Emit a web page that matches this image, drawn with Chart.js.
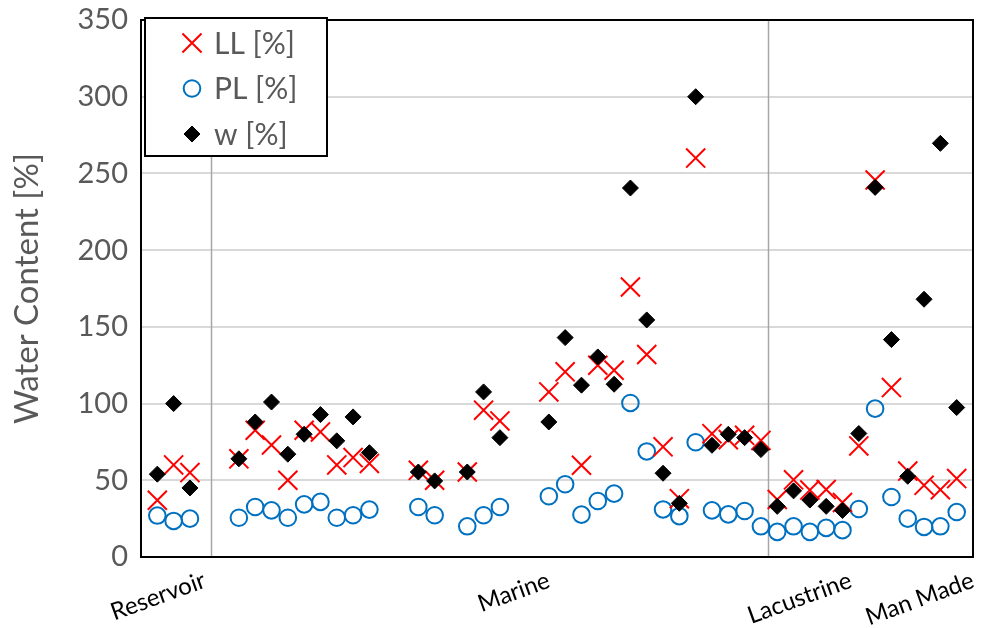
<!DOCTYPE html>
<html>
<head>
<meta charset="utf-8">
<script src="https://cdn.jsdelivr.net/npm/chart.js@4.4.1/dist/chart.umd.min.js"></script>
<style>
  html, body { margin: 0; padding: 0; background: #ffffff; }
  #wrap { width: 983px; height: 628px; }
</style>
</head>
<body>
<div id="wrap"><canvas id="c" width="983" height="628"></canvas></div>
<script>
// Sample positions along the horizontal axis (empty slots have null values)
const sampleNo = [
  0, 1, 2, 3, 4, 5, 6, 7, 8, 9,
  10, 11, 12, 13, 14, 15, 16, 17, 18, 19,
  20, 21, 22, 23, 24, 25, 26, 27, 28, 29,
  30, 31, 32, 33, 34, 35, 36, 37, 38, 39,
  40, 41, 42, 43, 44, 45, 46, 47, 48, 49
];

// Liquid limit LL [%]
const liquidLimit = [
  37, 60, 55, null, null, 64, 82.6, 73, 50, 82.6,
  81.5, 60, 64.8, 61, null, null, 56.5, 50, null, 55.4,
  95.7, 88.7, null, null, 107.6, 120.7, 59.8, 125, 121.7, 176,
  132, 71.8, 38, 260, 80.4, 76.5, 79.3, 76, 37.5, 50.3,
  43.6, 44, 35.5, 72.4, 245.7, 110.4, 56, 46.7, 43.9, 51.1
];

// Plastic limit PL [%]
const plasticLimit = [
  27, 23.5, 25, null, null, 25.6, 32.6, 30.4, 25.6, 34.3,
  35.9, 25.6, 27.2, 30.9, null, null, 32.6, 27.2, null, 20,
  27.2, 32.6, null, null, 39.6, 47.4, 27.6, 36.5, 41.3, 100.4,
  68.8, 31, 26.6, 74.8, 30.4, 27.8, 30, 20, 16.4, 20,
  16.4, 19, 17.5, 31.3, 96.7, 39.1, 25, 19.6, 20, 29.3
];

// Natural water content w [%]
const waterContent = [
  54, 100, 45, null, null, 64, 88, 101, 67, 80,
  92.8, 75.7, 91.3, 68, null, null, 55.4, 49.6, null, 55.4,
  107.6, 77.8, null, null, 88, 143, 112, 130.4, 112.6, 240.5,
  154.5, 54.6, 35, 300, 72.8, 80, 77.8, 70, 33, 43.1,
  37.1, 33, 30.3, 80.5, 240.9, 141.7, 52.6, 168, 269.6, 97.4
];

// Group names along the bottom and where they sit
const groupNames = ['Reservoir', 'Marine', 'Lacustrine', 'Man Made'];
const groupLabelAt = [2.9, 24, 42.5, 50];
// Vertical dividers between groups
const groupDividers = [3.3, 37.45];

const toPoints = (vals) => sampleNo
  .map((x, i) => ({ x: x, y: vals[i] }))
  .filter(p => p.y !== null);

const GRAY_TEXT = '#595959';
const FONT = 'Lato, "Open Sans", "DejaVu Sans", sans-serif';

// Frame, dividers and boxed legend
const decorations = {
  id: 'decorations',
  beforeDatasetsDraw(chart) {
    const { ctx, chartArea: a, scales: { x } } = chart;
    ctx.save();
    ctx.strokeStyle = '#A6A6A6';
    ctx.lineWidth = 1.5;
    groupDividers.forEach(v => {
      const px = Math.round(x.getPixelForValue(v)) + 0.5;
      ctx.beginPath();
      ctx.moveTo(px, a.top);
      ctx.lineTo(px, a.bottom);
      ctx.stroke();
    });
    ctx.strokeStyle = '#000000';
    ctx.lineWidth = 2;
    ctx.strokeRect(a.left, a.top, a.right - a.left, a.bottom - a.top);
    ctx.restore();
  },
  afterDraw(chart) {
    const { ctx, chartArea: a } = chart;
    const boxL = a.left + 4, boxT = a.top - 2, boxW = 182, boxH = 138;
    ctx.save();
    ctx.fillStyle = '#ffffff';
    ctx.fillRect(boxL, boxT, boxW, boxH);
    ctx.strokeStyle = '#000000';
    ctx.lineWidth = 2;
    ctx.strokeRect(boxL, boxT, boxW, boxH);
    ctx.font = '30px ' + FONT;
    ctx.textBaseline = 'middle';
    ctx.textAlign = 'left';
    chart.data.datasets.forEach((ds, i) => {
      const cy = boxT + 25 + i * 45.5;
      const cx = boxL + 47;
      ctx.save();
      ctx.strokeStyle = ds.borderColor;
      ctx.fillStyle = ds.backgroundColor;
      ctx.lineWidth = ds.borderWidth;
      Chart.helpers.drawPoint(ctx, {
        pointStyle: ds.pointStyle,
        radius: ds.pointRadius,
        rotation: 0,
        borderWidth: ds.borderWidth
      }, cx, cy);
      ctx.restore();
      ctx.fillStyle = GRAY_TEXT;
      ctx.fillText(ds.label, boxL + 69, cy + 1);
    });
    ctx.restore();
  }
};

new Chart(document.getElementById('c'), {
  type: 'scatter',
  data: {
    datasets: [
      {
        label: 'LL [%]',
        data: toPoints(liquidLimit),
        pointStyle: 'crossRot',
        pointRadius: 13.5,
        borderColor: '#FF0000',
        backgroundColor: 'rgba(0,0,0,0)',
        borderWidth: 2,
        order: 1
      },
      {
        label: 'PL [%]',
        data: toPoints(plasticLimit),
        pointStyle: 'circle',
        pointRadius: 8.3,
        borderColor: '#0070C0',
        backgroundColor: 'rgba(0,0,0,0)',
        borderWidth: 2,
        order: 2
      },
      {
        label: 'w [%]',
        data: toPoints(waterContent),
        pointStyle: 'rectRot',
        pointRadius: 8,
        borderColor: '#000000',
        backgroundColor: '#000000',
        borderWidth: 1,
        order: 0
      }
    ]
  },
  options: {
    responsive: false,
    animation: false,
    events: [],
    layout: {
      autoPadding: false,
      padding: { top: 20, right: 10, left: 0, bottom: 0 }
    },
    plugins: {
      legend: { display: false },
      tooltip: { enabled: false }
    },
    scales: {
      x: {
        type: 'linear',
        min: -1,
        max: 50,
        grid: { display: false, drawTicks: false },
        border: { display: false },
        afterBuildTicks(scale) {
          scale.ticks = groupLabelAt.map(v => ({ value: v }));
        },
        afterFit(scale) {
          scale.height = 71;
          scale.paddingLeft = 0;
          scale.paddingRight = 0;
        },
        ticks: {
          autoSkip: false,
          minRotation: 20,
          maxRotation: 20,
          padding: 9,
          color: '#000000',
          font: { family: FONT, size: 24 },
          callback: (value, index) => groupNames[index]
        }
      },
      y: {
        min: 0,
        max: 350,
        grid: { color: '#D9D9D9', lineWidth: 2, drawTicks: false },
        border: { display: false },
        afterFit(scale) {
          scale.width = 141;
          scale.paddingTop = 0;
          scale.paddingBottom = 0;
        },
        ticks: {
          stepSize: 50,
          padding: 13,
          color: GRAY_TEXT,
          font: { family: FONT, size: 29 }
        },
        title: {
          display: true,
          text: 'Water Content [%]',
          color: GRAY_TEXT,
          font: { family: FONT, size: 33 },
          padding: { top: 8, bottom: 0 }
        }
      }
    }
  },
  plugins: [decorations]
});
</script>
</body>
</html>
